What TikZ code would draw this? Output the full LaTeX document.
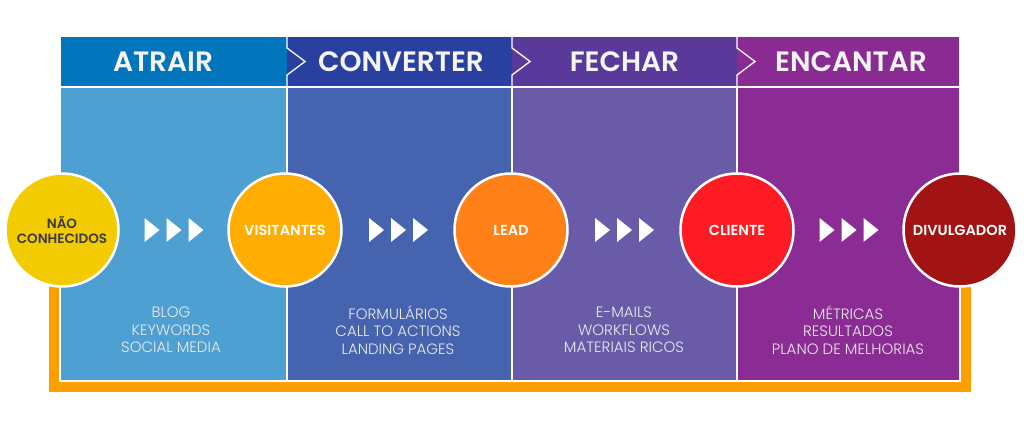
\documentclass[tikz,border=0pt]{standalone}
\usepackage{fontspec}
\setmainfont{Poppins}
\newfontfamily\headfont{Poppins}[UprightFont=* SemiBold]
\newfontfamily\thinfont{Poppins}[UprightFont=* Light]
\definecolor{hdA}{HTML}{0075BC}
\definecolor{hdB}{HTML}{2940A0}
\definecolor{hdC}{HTML}{593A9B}
\definecolor{hdD}{HTML}{8A2B93}
\definecolor{bdA}{HTML}{4E9FD2}
\definecolor{bdB}{HTML}{4563AF}
\definecolor{bdC}{HTML}{6A5BA9}
\definecolor{bdD}{HTML}{8A2C93}
\definecolor{frame}{HTML}{FFA000}
\definecolor{cYel}{HTML}{F2CC00}
\definecolor{cAmb}{HTML}{FFAD00}
\definecolor{cOra}{HTML}{FF8117}
\definecolor{cRed}{HTML}{FF1B24}
\definecolor{cDkr}{HTML}{A21313}
\definecolor{txtdk}{HTML}{3A3A3A}
\tikzset{
  header/.style={font=\headfont\fontsize{28}{28}\selectfont, text=white!96!black},
  stagecircle/.style={circle, draw=white, line width=2.5pt, minimum size=113pt, inner sep=0pt,
    font=\headfont\fontsize{14.5}{16}\selectfont, text=white, align=center},
  tools/.style={font=\thinfont\fontsize{15}{17.5}\selectfont, text=white!92!black, align=center},
  tri/.style={fill=white, draw=none},
  sepline/.style={draw=white, line width=1.3pt},
}
\begin{document}
\begin{tikzpicture}[x=1pt, y=-1pt]
\useasboundingbox (0,0) rectangle (1024,442);
\fill[white] (0,0) rectangle (1024,442);

% orange frame under the columns
\fill[frame] (49,280) rectangle (971,392);
\fill[white] (59,280) rectangle (961,382);

% column bodies
\fill[bdA] (60,87) rectangle (287,381);
\fill[bdB] (287,87) rectangle (512,381);
\fill[bdC] (512,87) rectangle (737,381);
\fill[bdD] (737,87) rectangle (960,381);

% header band
\fill[hdA] (60,36) rectangle (287,87);
\fill[hdB] (287,36) rectangle (512,87);
\fill[hdC] (512,36) rectangle (737,87);
\fill[hdD] (737,36) rectangle (960,87);

% white outlines and separators
\draw[sepline] (60,36) rectangle (960,381);
\draw[sepline] (60,87) -- (960,87);
\foreach \xx in {287,512,737}{
  \draw[sepline] (\xx,87) -- (\xx,381);
  \draw[sepline, line join=miter] (\xx,36) -- (\xx,48) -- (\xx+18,61.5) -- (\xx,75) -- (\xx,87);
}

% header titles
\node[header] (hA) at (163,62) {ATRAIR};
\node[header] (hB) at (401,62) {CONVERTER};
\node[header] (hC) at (624.5,62) {FECHAR};
\node[header] (hD) at (851,62) {ENCANTAR};

% stage circles
\node[stagecircle, fill=cYel, text=txtdk, font=\headfont\fontsize{13.5}{15.5}\selectfont] (s0) at (62,230) {NÃO\\CONHECIDOS};
\node[stagecircle, fill=cAmb] (s1) at (285,230) {VISITANTES};
\node[stagecircle, fill=cOra] (s2) at (511,230) {LEAD};
\node[stagecircle, fill=cRed] (s3) at (737,230) {CLIENTE};
\node[stagecircle, fill=cDkr] (s4) at (960,230) {DIVULGADOR};

% triple arrowheads between stages
\foreach \a/\b in {s0/s1, s1/s2, s2/s3, s3/s4}{
  \path (\a) -- (\b) coordinate[pos=0.5] (m);
  \foreach \d in {-22,0,22}{
    \fill[tri] ([xshift=\d pt-7pt, yshift=12pt]m) -- ([xshift=\d pt+8pt]m) -- ([xshift=\d pt-7pt, yshift=-12pt]m) -- cycle;
  }
}

% tools of each stage
\node[tools] (tA) at (171,330) {BLOG\\KEYWORDS\\SOCIAL MEDIA};
\node[tools] (tB) at (398,330) {FORMULÁRIOS\\CALL TO ACTIONS\\LANDING PAGES};
\node[tools] (tC) at (624,330) {E-MAILS\\WORKFLOWS\\MATERIAIS RICOS};
\node[tools] (tD) at (848,330) {MÉTRICAS\\RESULTADOS\\PLANO DE MELHORIAS};
\end{tikzpicture}
\end{document}
